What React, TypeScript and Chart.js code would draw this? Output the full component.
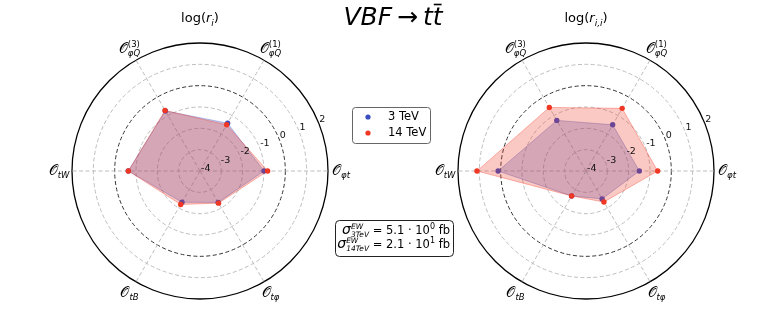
import { useEffect, useRef } from 'react';
import { Chart, registerables } from 'chart.js';
Chart.register(...registerables);

// categories clockwise from the right (Chart.js order)
const catSub = ['φt', 'tφ', 'tB', 'tW', 'φQ', 'φQ'];
const catSup = ['', '', '', '', '(3)', '(1)'];
const categories = catSub.map((s, i) => 'O_' + s + (catSup[i] ? '^' + catSup[i] : ''));

const left3TeV = [-1.0, -2.3, -2.31, -0.64, -0.75, -1.41];
const left14TeV = [-0.83, -2.26, -2.19, -0.64, -0.72, -1.5];
const right3TeV = [-1.5, -2.49, -2.65, 0.12, -1.26, -1.5];
const right14TeV = [-0.64, -2.32, -2.65, 1.11, -0.56, -0.61];

const tickValues = [-4, -3, -2, -1, 0, 1, 2];
const seriesNames = ['3 TeV', '14 TeV'];

const BLUE = 'rgb(59,76,192)';
const RED = 'rgb(240,55,35)';
const FONT = '"DejaVu Sans"';

type Seg = { t: string; size: number; it?: boolean; sup?: string; sub?: string; ss?: number; supDy?: number; subDy?: number; supIt?: boolean };

function segWidth(ctx: CanvasRenderingContext2D, s: Seg) {
  ctx.font = `${s.it ? 'italic ' : ''}${s.size}px ${FONT}`;
  const w = ctx.measureText(s.t).width;
  const ss = s.ss ?? Math.round(s.size * 0.7);
  let ew = 0;
  if (s.sup) {
    ctx.font = `${s.supIt === false ? '' : 'italic '}${ss}px ${FONT}`;
    ew = Math.max(ew, ctx.measureText(s.sup).width);
  }
  if (s.sub) {
    ctx.font = `italic ${ss}px ${FONT}`;
    ew = Math.max(ew, ctx.measureText(s.sub).width);
  }
  return w + ew;
}

function drawRich(ctx: CanvasRenderingContext2D, segs: Seg[], x: number, y: number, align: 'left' | 'center' | 'right', color = '#000') {
  const total = segs.reduce((a, s) => a + segWidth(ctx, s), 0);
  let cx = align === 'left' ? x : align === 'center' ? x - total / 2 : x - total;
  ctx.save();
  ctx.fillStyle = color;
  ctx.textAlign = 'left';
  ctx.textBaseline = 'alphabetic';
  for (const s of segs) {
    ctx.font = `${s.it ? 'italic ' : ''}${s.size}px ${FONT}`;
    ctx.fillText(s.t, cx, y);
    const tw = ctx.measureText(s.t).width;
    const ss = s.ss ?? Math.round(s.size * 0.7);
    let ew = 0;
    if (s.sup) {
      ctx.font = `${s.supIt === false ? '' : 'italic '}${ss}px ${FONT}`;
      ctx.fillText(s.sup, cx + tw, y + (s.supDy ?? -s.size * 0.45));
      ew = Math.max(ew, ctx.measureText(s.sup).width);
    }
    if (s.sub) {
      ctx.font = `italic ${ss}px ${FONT}`;
      ctx.fillText(s.sub, cx + tw, y + (s.subDy ?? s.size * 0.28));
      ew = Math.max(ew, ctx.measureText(s.sub).width);
    }
    cx += tw + ew;
  }
  ctx.restore();
  return total;
}

function makePlugin(title: Seg[], withCenter: boolean) {
  return {
    id: 'deco' + (withCenter ? 'L' : 'R'),
    afterDraw(chart: any) {
      const ctx: CanvasRenderingContext2D = chart.ctx;
      const sc = chart.scales.r;
      const cx = sc.xCenter, cy = sc.yCenter;
      // tick labels along 22.5 degrees
      const a = (22.5 * Math.PI) / 180;
      ctx.save();
      ctx.font = `9.5px ${FONT}`;
      ctx.fillStyle = '#111';
      ctx.textAlign = 'left';
      ctx.textBaseline = 'bottom';
      tickValues.forEach((v) => {
        const d = sc.getDistanceFromCenterForValue(v);
        ctx.fillText(String(v), cx + d * Math.cos(a) + 1, cy - d * Math.sin(a) + 2);
      });
      ctx.restore();
      // point labels
      const labD = sc.getDistanceFromCenterForValue(2) + 13;
      categories.forEach((_, i) => {
        const p = sc.getPointPosition(i, labD);
        drawRich(ctx, [{ t: '𝒪', size: 14, it: false, sub: catSub[i], sup: catSup[i] || undefined, supIt: false, ss: 8.5, supDy: -6, subDy: 3 }], p.x, p.y + 4, 'center');
      });
      // subplot title
      drawRich(ctx, title, cx, 22, 'center');
      if (withCenter) {
        // main title
        const segs: Seg[] = [
          { t: 'VBF', size: 25, it: true },
          { t: '\u2009→\u2009', size: 25 },
          { t: 'tt', size: 25, it: true },
        ];
        const w = drawRich(ctx, segs, 393, 25, 'center');
        ctx.save();
        ctx.font = `italic 25px ${FONT}`;
        const tW = ctx.measureText('t').width;
        const endX = 393 + w / 2;
        ctx.strokeStyle = '#000';
        ctx.lineWidth = 1.6;
        ctx.beginPath();
        ctx.moveTo(endX - tW + 1, 4.5);
        ctx.lineTo(endX - 1, 4.5);
        ctx.stroke();
        ctx.restore();
        // legend
        ctx.save();
        ctx.strokeStyle = '#666';
        ctx.fillStyle = '#fff';
        ctx.lineWidth = 1;
        ctx.beginPath();
        (ctx as any).roundRect(352.5, 107.5, 78, 36, 3);
        ctx.fill();
        ctx.stroke();
        const cols = [BLUE, RED];
        seriesNames.forEach((n, i) => {
          const y = 117 + i * 16;
          ctx.fillStyle = cols[i];
          ctx.beginPath();
          ctx.arc(368, y, 2.6, 0, Math.PI * 2);
          ctx.fill();
          ctx.fillStyle = '#000';
          ctx.font = `11.5px ${FONT}`;
          ctx.textBaseline = 'middle';
          ctx.fillText(n, 388, y + 0.5);
        });
        // sigma box
        ctx.strokeStyle = '#222';
        ctx.fillStyle = '#fff';
        ctx.beginPath();
        (ctx as any).roundRect(335.5, 220.5, 118, 36, 4);
        ctx.fill();
        ctx.stroke();
        ctx.restore();
        drawRich(ctx, [
          { t: 'σ', size: 14, it: true, sup: 'EW', sub: '3TeV', ss: 7.5, supDy: -5.5, subDy: 3 },
          { t: ' = 5.1 · 10', size: 11.5, sup: '0', ss: 8, supDy: -5, supIt: false },
          { t: ' fb', size: 11.5 },
        ], 450, 234, 'right');
        drawRich(ctx, [
          { t: 'σ', size: 14, it: true, sup: 'EW', sub: '14TeV', ss: 7.5, supDy: -5.5, subDy: 3 },
          { t: ' = 2.1 · 10', size: 11.5, sup: '1', ss: 8, supDy: -5, supIt: false },
          { t: ' fb', size: 11.5 },
        ], 450, 248, 'right');
      }
    },
  };
}

function makeConfig(d3: number[], d14: number[], padLeft: number, title: Seg[], withCenter: boolean): any {
  return {
    type: 'radar',
    data: {
      labels: categories,
      datasets: [
        {
          label: seriesNames[1], data: d14,
          backgroundColor: 'rgba(240,55,35,0.27)', borderColor: 'rgba(240,55,35,0.35)', borderWidth: 1,
          pointBackgroundColor: RED, pointBorderWidth: 0, pointRadius: 2.7, fill: { value: -4 },
        },
        {
          label: seriesNames[0], data: d3,
          backgroundColor: 'rgba(59,76,192,0.27)', borderColor: 'rgba(59,76,192,0.35)', borderWidth: 1,
          pointBackgroundColor: BLUE, pointBorderWidth: 0, pointRadius: 2.7, fill: { value: -4 },
        },
      ],
    },
    options: {
      animation: false,
      responsive: false,
      maintainAspectRatio: false,
      layout: { padding: { left: padLeft, right: 784 - padLeft - 256, top: 43, bottom: 15 } },
      plugins: { legend: { display: false }, tooltip: { enabled: false } },
      scales: {
        r: {
          min: -4, max: 2, startAngle: 90,
          ticks: { display: false, stepSize: 1 },
          pointLabels: { display: false },
          grid: {
            circular: true,
            color: (c: any) => (c.tick && c.tick.value === 2 ? '#000' : c.tick && c.tick.value === 0 ? '#333' : '#bdbdbd'),
            lineWidth: (c: any) => (c.tick && c.tick.value === 2 ? 1.3 : 1),
          },
          border: { dash: (c: any) => (c.tick && c.tick.value === 2 ? [] : [4, 2.5]) },
          angleLines: { color: '#bdbdbd', lineWidth: 1, borderDash: [4, 2.5] },
        },
      },
    },
    plugins: [makePlugin(title, withCenter)],
  };
}

export default function App() {
  const lref = useRef<HTMLCanvasElement>(null);
  const rref = useRef<HTMLCanvasElement>(null);
  useEffect(() => {
    document.body.style.margin = '0';
    const lt: Seg[] = [{ t: 'log(', size: 13 }, { t: 'r', size: 13, it: true, sub: 'i', ss: 9 }, { t: ')', size: 13 }];
    const rt: Seg[] = [{ t: 'log(', size: 13 }, { t: 'r', size: 13, it: true, sub: 'i,i', ss: 9 }, { t: ')', size: 13 }];
    const c1 = new Chart(lref.current!, makeConfig(left3TeV, left14TeV, 72, lt, true));
    const c2 = new Chart(rref.current!, makeConfig(right3TeV, right14TeV, 458, rt, false));
    return () => { c1.destroy(); c2.destroy(); };
  }, []);
  return (
    <div style={{ position: 'relative', width: 784, height: 314, background: '#fff' }}>
      <canvas ref={rref} width={784} height={314} style={{ position: 'absolute', left: 0, top: 0 }} />
      <canvas ref={lref} width={784} height={314} style={{ position: 'absolute', left: 0, top: 0 }} />
    </div>
  );
}
